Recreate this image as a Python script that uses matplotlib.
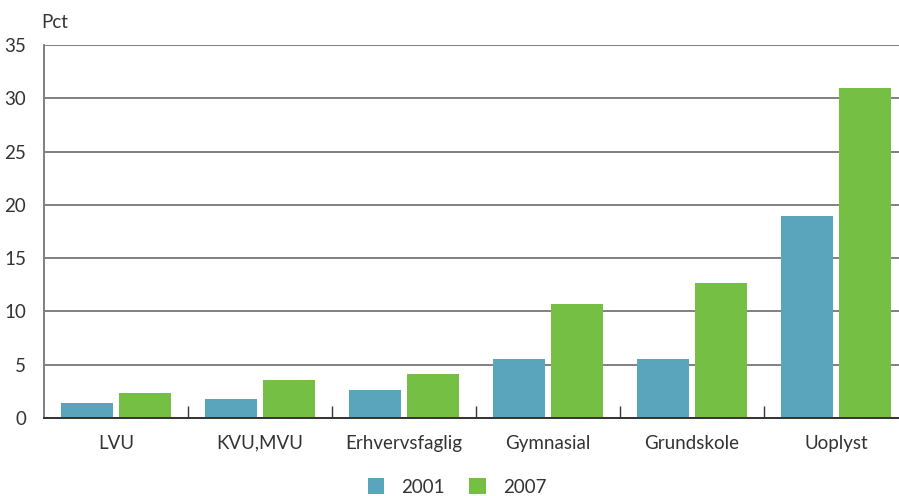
import matplotlib.pyplot as plt
import numpy as np

plt.rcParams['font.family'] = ['Lato', 'DejaVu Sans']

categories = ['LVU', 'KVU,MVU', 'Erhvervsfaglig', 'Gymnasial', 'Grundskole', 'Uoplyst']
vals_2001 = [1.4, 1.8, 2.6, 5.5, 5.5, 19.0]
vals_2007 = [2.35, 3.55, 4.1, 10.7, 12.65, 30.95]
series_labels = ['2001', '2007']
yticks = [0, 5, 10, 15, 20, 25, 30, 35]

blue = '#5ba5bc'
green = '#75bf44'
fs = 13.5

fig = plt.figure(figsize=(8.99, 4.96), dpi=100)
ax = fig.add_axes([44/899, 78/496, 1 - 44/899, 373/496])

x = np.arange(len(categories))
w = 0.361
off = 0.201
ax.bar(x - off, vals_2001, w, color=blue, label=series_labels[0], zorder=3)
ax.bar(x + off, vals_2007, w, color=green, label=series_labels[1], zorder=3)

ax.set_xlim(-0.5, 5.4375)
ax.set_ylim(0, 35)
ax.set_yticks(yticks)
ax.yaxis.grid(True, color='#808080', lw=1.4, zorder=0)
ax.set_axisbelow(True)

ax.set_xticks(x)
ax.set_xticklabels(categories, fontsize=fs, color='#333333')
ax.set_xticks(np.arange(0.5, 5, 1), minor=True)
ax.tick_params(axis='x', which='major', length=0, pad=12)
ax.tick_params(axis='x', which='minor', direction='in', length=9, width=1, color='#333333')
ax.tick_params(axis='y', length=0, pad=13, labelsize=fs, labelcolor='#333333')

for s in ['top', 'right']:
    ax.spines[s].set_visible(False)
ax.spines['left'].set_color('#808080')
ax.spines['left'].set_linewidth(1.4)
ax.spines['bottom'].set_color('#333333')
ax.spines['bottom'].set_linewidth(1.4)
ax.spines['bottom'].set_zorder(4)

fig.text(41/899, 1 - 22/496, 'Pct', fontsize=fs, color='#333333', va='center', ha='left')

fig.legend(loc='center', bbox_to_anchor=(457/899, 1 - 487/496), ncol=2, frameon=False,
           fontsize=fs, handlelength=0.9, handleheight=0.9, columnspacing=1.3,
           handletextpad=0.9, labelcolor='#333333')

fig.savefig('out.png', dpi=100)
